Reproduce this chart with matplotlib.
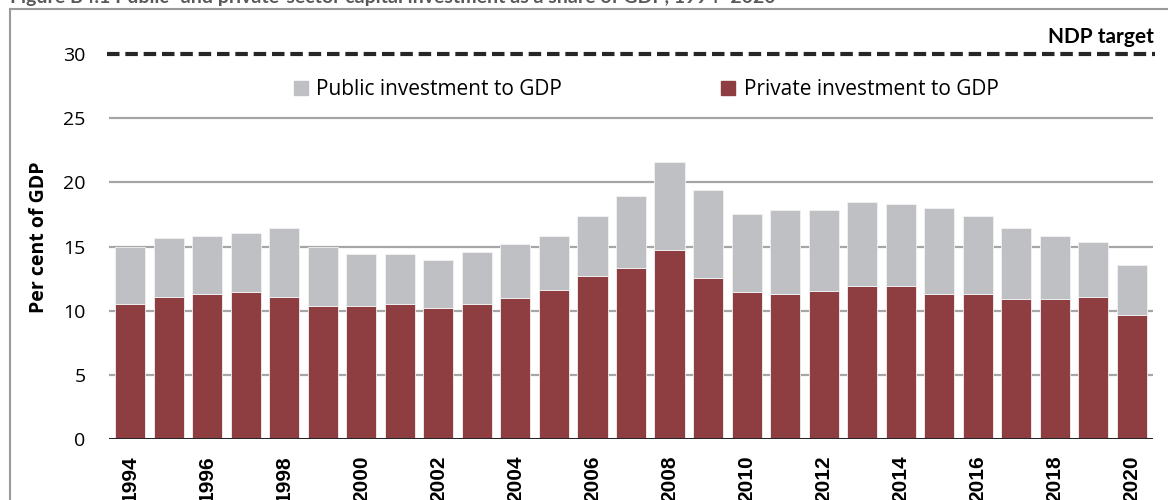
import matplotlib
matplotlib.use("Agg")
import matplotlib.pyplot as plt
from matplotlib.patches import Rectangle
from matplotlib.lines import Line2D
import numpy as np

years = list(range(1994, 2021))
private = [10.5, 11.1, 11.3, 11.45, 11.1, 10.35, 10.35, 10.5, 10.2, 10.5,
           11.0, 11.6, 12.7, 13.35, 14.75, 12.55, 11.45, 11.3, 11.55, 11.9,
           11.9, 11.3, 11.3, 10.95, 10.95, 11.1, 9.7]
total = [15.0, 15.65, 15.8, 16.1, 16.45, 15.0, 14.4, 14.4, 13.95, 14.6,
         15.2, 15.8, 17.4, 18.95, 21.6, 19.4, 17.55, 17.85, 17.85, 18.45,
         18.3, 18.0, 17.35, 16.45, 15.8, 15.35, 13.6]
public = [t - p for t, p in zip(total, private)]
ndp_target = 30
tick_years = list(range(1994, 2021, 2))

PRIV = "#8E3E40"
PUB = "#BFC0C3"

fig = plt.figure(figsize=(11.68, 5.0), dpi=100)
ax = fig.add_axes([109/1168, 1-439/500, (1153-109)/1168, 404/500])

x = np.arange(len(years))
ax.bar(x, private, width=0.78, color=PRIV, edgecolor="#f2f2f2", linewidth=0.6, zorder=3)
ax.bar(x, public, bottom=private, width=0.78, color=PUB, edgecolor="#f2f2f2", linewidth=0.6, zorder=3)

ax.set_xlim(-0.55, len(years) - 0.45)
ax.set_ylim(0, 31.5)
ax.set_yticks([0, 5, 10, 15, 20, 25, 30])
for gy in [5, 10, 15, 20, 25]:
    ax.axhline(gy, color="#A6A6A6", linewidth=1.6, zorder=1)
ax.axhline(0, color="#262626", linewidth=2.2, zorder=4)
ax.plot([-0.6, len(years) - 0.4], [ndp_target, ndp_target], color="#262626",
        linewidth=3, linestyle=(0, (3.0, 1.4)), zorder=4, clip_on=False)

for s in ax.spines.values():
    s.set_visible(False)
ax.tick_params(axis="y", length=0, pad=17, labelsize=14, labelcolor="#000000")
for lab in ax.get_yticklabels():
    lab.set_fontfamily("Open Sans")
ax.set_xticks([years.index(y) for y in tick_years])
ax.set_xticklabels([str(y) for y in tick_years], rotation=90, fontsize=15,
                   fontweight="bold", fontfamily="Liberation Sans", va="top")
ax.tick_params(axis="x", length=0, pad=12)

ax.set_ylabel("Per cent of GDP", fontsize=14, fontweight="bold", fontfamily="Open Sans", labelpad=10)

ax.text(len(years) - 0.42, 30.6, "NDP target", ha="right", va="bottom",
        fontsize=15, fontweight="bold", fontfamily="Lato")

handles = [Rectangle((0, 0), 1, 1, color=PUB), Rectangle((0, 0), 1, 1, color=PRIV)]
leg = fig.legend(handles, ["Public investment to GDP", "Private investment to GDP"],
                 loc="center", bbox_to_anchor=(646/1168, 1-90/500), ncol=2, frameon=False,
                 prop={"family": "Open Sans", "size": 15}, handlelength=0.7, handleheight=0.7,
                 handletextpad=0.4, columnspacing=7.6)

# outer frame (cropped figure box)
fig.add_artist(Line2D([10/1168, 10/1168], [-0.1, 1-9/500], color="#9A9A9A", linewidth=1.5))
fig.add_artist(Line2D([10/1168, 1.1], [1-9/500, 1-9/500], color="#9A9A9A", linewidth=1.5))

fig.text(10/1168, 1-3/500, "Figure B4.1 Public- and private-sector capital investment as a share of GDP, 1994\u20132020",
         ha="left", va="baseline", fontsize=14, fontweight="bold", color="#595959", fontfamily="Lato")

fig.savefig("out.png", dpi=100)
